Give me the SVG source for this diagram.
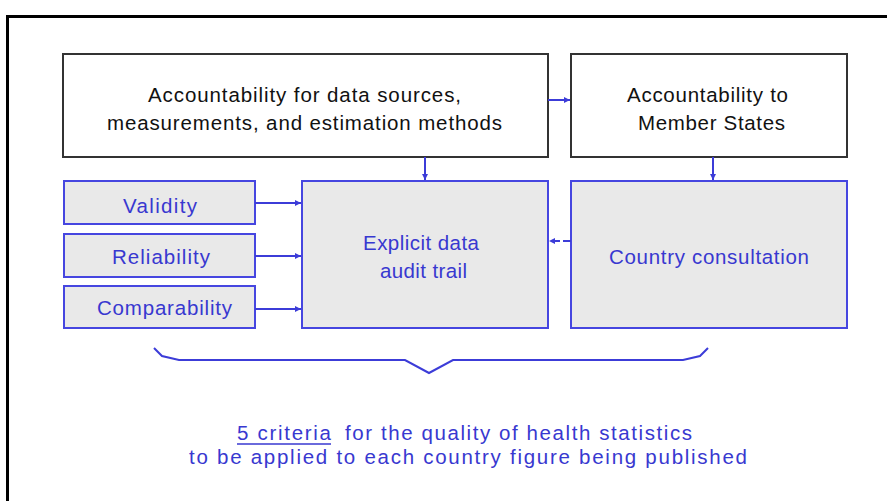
<svg xmlns="http://www.w3.org/2000/svg" width="887" height="501" viewBox="0 0 887 501">
<style>
.frame{fill:none;stroke:#000;stroke-width:3}
.bk{fill:#fff;stroke:#333;stroke-width:2}
.bl{fill:#e9e9e9;stroke:#4646e0;stroke-width:2}
.tk{font-family:"Liberation Sans",Arial,sans-serif;font-size:20.5px;fill:#111;text-anchor:start}
.tb{font-family:"Liberation Sans",Arial,sans-serif;font-size:20.5px;fill:#3838d0;text-anchor:start}
.cn{fill:none;stroke:#3c3cd8;stroke-width:2}
</style>
<defs>
<marker id="ah" viewBox="0 0 6 6" refX="6" refY="3" markerWidth="6" markerHeight="6" markerUnits="userSpaceOnUse" orient="auto">
<path d="M0,0 L6,3 L0,6 z" fill="#3c3cd8"/>
</marker>
</defs>
<path class="frame" d="M7.5,501 V16.5 H887"/>
<g id="box-data-sources">
<rect class="bk" x="63" y="54" width="485" height="103"/>
<text class="tk" x="148" y="102" textLength="313" lengthAdjust="spacing">Accountability for data sources,</text>
<text class="tk" x="107" y="130" textLength="395" lengthAdjust="spacing">measurements, and estimation methods</text>
</g>
<g id="box-member-states">
<rect class="bk" x="571" y="54" width="276" height="103"/>
<text class="tk" x="627" y="102" textLength="161" lengthAdjust="spacing">Accountability to</text>
<text class="tk" x="638" y="130" textLength="147" lengthAdjust="spacing">Member States</text>
</g>
<g id="box-validity">
<rect class="bl" x="64" y="181" width="191" height="43"/>
<text class="tb" x="123" y="213" textLength="74" lengthAdjust="spacing">Validity</text>
</g>
<g id="box-reliability">
<rect class="bl" x="64" y="234" width="191" height="43"/>
<text class="tb" x="112" y="264" textLength="98" lengthAdjust="spacing">Reliability</text>
</g>
<g id="box-comparability">
<rect class="bl" x="64" y="286" width="191" height="42"/>
<text class="tb" x="97" y="315" textLength="135" lengthAdjust="spacing">Comparability</text>
</g>
<g id="box-audit-trail">
<rect class="bl" x="302" y="181" width="246" height="147"/>
<text class="tb" x="363" y="250" textLength="116" lengthAdjust="spacing">Explicit data</text>
<text class="tb" x="380" y="278" textLength="87" lengthAdjust="spacing">audit trail</text>
</g>
<g id="box-country-consultation">
<rect class="bl" x="571" y="181" width="276" height="147"/>
<text class="tb" x="609" y="264" textLength="200" lengthAdjust="spacing">Country consultation</text>
</g>
<g id="connectors">
<line class="cn" x1="548" y1="100" x2="570" y2="100" marker-end="url(#ah)"/>
<line class="cn" x1="425" y1="157" x2="425" y2="180" marker-end="url(#ah)"/>
<line class="cn" x1="713" y1="157" x2="713" y2="180" marker-end="url(#ah)"/>
<line class="cn" x1="255" y1="203" x2="301" y2="203" marker-end="url(#ah)"/>
<line class="cn" x1="255" y1="256" x2="301" y2="256" marker-end="url(#ah)"/>
<line class="cn" x1="255" y1="309" x2="301" y2="309" marker-end="url(#ah)"/>
<line class="cn" x1="571" y1="241" x2="549" y2="241" stroke-dasharray="8,3" marker-end="url(#ah)"/>
<path class="cn" d="M154,348 L162,356 L179,360 H405 L429,373 L453,360 H683 L700,356 L708,348"/>
</g>
<g id="caption">
<text class="tb" x="237" y="440" textLength="94" lengthAdjust="spacing">5 criteria</text>
<line x1="237" y1="444" x2="331" y2="444" stroke="#3838d0" stroke-width="1.5"/>
<text class="tb" x="345" y="440" textLength="347" lengthAdjust="spacing">for the quality of health statistics</text>
<text class="tb" x="189" y="464" textLength="558" lengthAdjust="spacing">to be applied to each country figure being published</text>
</g>
</svg>
